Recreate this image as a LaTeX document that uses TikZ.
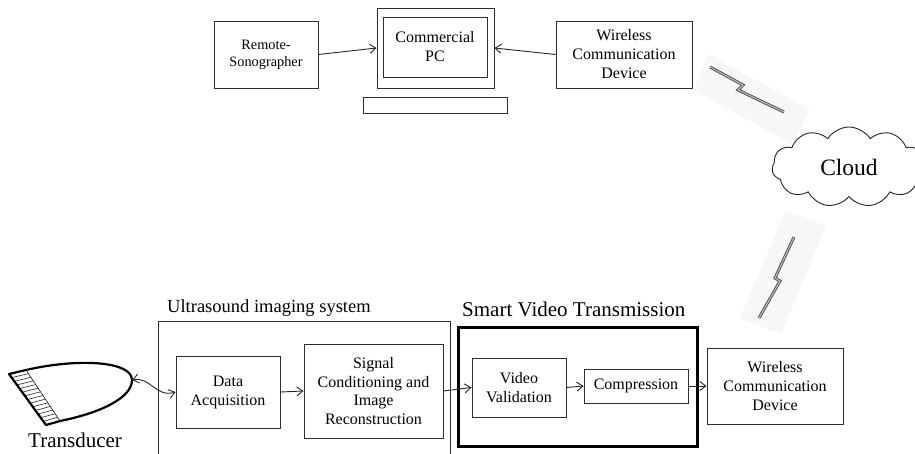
\documentclass[tikz,border=0pt]{standalone}
\usepackage{fontspec}
\setmainfont{Liberation Serif}
\usetikzlibrary{arrows.meta,shapes.symbols,calc}

\tikzset{
  blk/.style={draw=black!82, line width=0.9pt, align=center, inner sep=0pt,
              font=\fontsize{16}{19}\selectfont},
  frame/.style={draw=black!82, line width=0.9pt},
  flow/.style={draw=black!85, line width=0.9pt,
               -{Straight Barb[length=6pt,width=9pt,line width=0.9pt]}},
  bolt/.style={draw=black!70, line width=0.9pt, double=black!25,
               double distance=1.1pt, line join=miter},
  halo/.style={fill=black!3, draw=none},
}

\begin{document}
\begin{tikzpicture}[x=1pt,y=-1pt]
\useasboundingbox (0,0) rectangle (915,454);
\clip (0,0) rectangle (915,454);
\fill[white] (0,0) rectangle (915,454);

% ---------- remote station ----------
\node[blk, minimum width=104pt, minimum height=67pt,
      font=\fontsize{14.3}{17}\selectfont] (rs) at (266,54.5) {Remote-\\Sonographer};
\node[frame, minimum width=117pt, minimum height=80pt, inner sep=0pt] (pco) at (435.5,48) {};
\node[blk, minimum width=104pt, minimum height=60pt] (pci) at (435,47) {Commercial\\PC};
\node[frame, minimum width=144pt, minimum height=16pt, inner sep=0pt] (kb) at (435,105) {};
\node[blk, minimum width=136pt, minimum height=67pt] (wtop) at (624,54.5) {Wireless\\Communication\\Device};

\draw[flow] (rs.east) -- (pco.west);
\draw[flow] (wtop.west) -- (pco.east);

% ---------- radio links and cloud ----------
\fill[halo] (708,54) -- (810,110) -- (792,144) -- (694,90) -- cycle;
\fill[halo] (786,210) -- (826,226) -- (781,334) -- (740,318) -- cycle;

\coordinate (b1a) at (710,67);
\coordinate (b1b) at (743,85);
\coordinate (b1c) at (738,90);
\coordinate (b1d) at (784,112);
\draw[bolt] (b1a) -- (b1b) -- (b1c) -- (b1d);

\coordinate (b2a) at (794,237);
\coordinate (b2b) at (775,278);
\coordinate (b2c) at (780,281);
\coordinate (b2d) at (759,318);
\draw[bolt] (b2a) -- (b2b) -- (b2c) -- (b2d);

\node[cloud, cloud puffs=11, cloud puff arc=115, aspect=2,
      draw=black!85, line width=0.9pt, minimum width=154pt, minimum height=80pt,
      font=\fontsize{23.5}{28}\selectfont] (cloud) at (849,167) {Cloud};

% ---------- ultrasound imaging system ----------
\draw[frame] (158,321) rectangle (450,475);
\node[anchor=base west, inner sep=0pt, font=\fontsize{18.5}{22}\selectfont]
  (uslabel) at (167,312) {Ultrasound imaging system};

\node[blk, minimum width=104pt, minimum height=72pt] (da) at (228,392) {Data\\Acquisition};
\node[blk, minimum width=139pt, minimum height=94pt, font=\fontsize{16}{18.7}\selectfont]
  (sc) at (373.5,391) {Signal\\Conditioning and\\Image\\Reconstruction};

% ---------- smart video transmission ----------
\draw[draw=black, line width=3pt] (458,327) rectangle (697,446);
\node[anchor=base west, inner sep=0pt, font=\fontsize{21}{25}\selectfont]
  (svlabel) at (462,316) {Smart Video Transmission};

\node[blk, minimum width=94pt, minimum height=59pt] (vv) at (519,387.5) {Video\\Validation};
\node[blk, minimum width=104pt, minimum height=34pt] (cmp) at (636,386) {Compression};
\node[blk, minimum width=136pt, minimum height=76pt] (wbot) at (775,386) {Wireless\\Communication\\Device};

\draw[flow] (da.east) -- (sc.west);
\draw[flow] (sc.east) -- (vv.west);
\draw[flow] (vv.east) -- (cmp.west);
\draw[flow] (cmp.east) -- (wbot.west);

% ---------- transducer ----------
\coordinate (ta) at (9,374);
\coordinate (tb) at (26,370);
\coordinate (tc) at (60,421);
\coordinate (td) at (46,425);
\coordinate (tip) at (132,380);
\foreach \k in {1,...,13}
  \draw[black!85, line width=0.6pt] ($(ta)!\k/14!(td)$) -- ($(tb)!\k/14!(tc)$);
\draw[black!90, line width=0.6pt] (tb) -- (tc);
\draw[black, line width=2.2pt, line join=round]
  (ta) -- (tb) .. controls (78,358) and (132,361) .. (tip)
  .. controls (132,398) and (100,413) .. (tc) -- (td) -- cycle;
\node[anchor=base west, inner sep=0pt, font=\fontsize{21}{25}\selectfont]
  (tlabel) at (28,447) {Transducer};

\draw[black!85, line width=0.9pt,
      {Straight Barb[length=6pt,width=9pt,line width=0.9pt]}-{Straight Barb[length=6pt,width=9pt,line width=0.9pt]}]
  (tip) .. controls (150,376) and (156,398) .. (da.west);
\end{tikzpicture}
\end{document}
